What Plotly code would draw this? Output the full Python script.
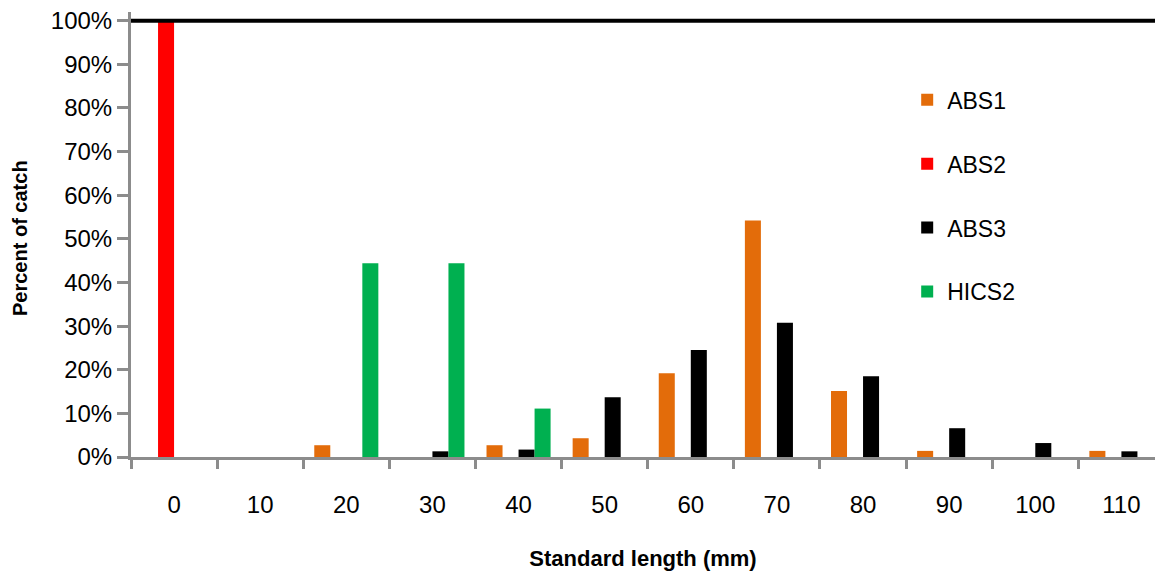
import plotly.graph_objects as go

categories = ["0", "10", "20", "30", "40", "50", "60", "70", "80", "90", "100", "110"]
abs1 = [None, None, 0.027, None, 0.027, 0.043, 0.192, 0.542, 0.151, 0.014, None, 0.014]
abs2 = [1.0, None, None, None, None, None, None, None, None, None, None, None]
abs3 = [None, None, None, 0.013, 0.017, 0.137, 0.245, 0.308, 0.185, 0.066, 0.032, 0.013]
hics2 = [None, None, 0.444, 0.444, 0.111, None, None, None, None, None, None, None]
y_ticks = [i / 10 for i in range(11)]
y_title = "Percent of catch"

series = [
    ("ABS1", abs1, "#E36C0A"),
    ("ABS2", abs2, "#FF0000"),
    ("ABS3", abs3, "#000000"),
    ("HICS2", hics2, "#00B050"),
]

FONT = "Liberation Sans, Arial, sans-serif"
fig = go.Figure()
for name, vals, col in series:
    fig.add_trace(go.Bar(x=categories, y=vals, name=name, marker_color=col,
                         marker_line_width=0, legendgroup=name))

W, H = 1155, 575
ml, mr, mt, mb = 131, 0, 12, 118
plot_h = H - mt - mb
ymax = 1.02

fig.update_layout(
    width=W, height=H,
    margin=dict(l=ml, r=mr, t=mt, b=mb, autoexpand=False),
    paper_bgcolor="white", plot_bgcolor="white",
    barmode="group", bargap=0.256, bargroupgap=0,
    font=dict(family=FONT, size=24, color="black"),
    legend=dict(x=0.758, y=0.851, xanchor="left", yanchor="top",
                font=dict(size=23), tracegroupgap=31,
                bgcolor="rgba(0,0,0,0)", itemwidth=30),
    showlegend=True,
)
fig.update_xaxes(
    type="category", range=[-0.5, 11.39], automargin=False,
    showline=True, linecolor="#8C8C8C", linewidth=3,
    ticks="outside", tickson="boundaries", ticklen=9, tickwidth=3, tickcolor="#8C8C8C",
    showgrid=False, ticklabelstandoff=24,
    tickfont=dict(size=24),
    title=dict(text="<b>Standard length (mm)</b>", font=dict(size=22), standoff=34),
)
fig.update_yaxes(
    range=[0, ymax], tickvals=y_ticks, tickformat=".0%", automargin=False,
    showline=True, linecolor="#8C8C8C", linewidth=3,
    ticks="outside", ticklen=11, tickwidth=3, tickcolor="#8C8C8C",
    showgrid=False, zeroline=False, tickfont=dict(size=24),
)
# black line at 100%
fig.add_shape(type="line", xref="paper", yref="y", x0=0, x1=1, y0=1, y1=1,
              line=dict(color="black", width=4), layer="above")

# y-axis title
fig.add_annotation(text=f"<b>{y_title}</b>", x=(20 - ml) / (W - ml - mr), xref="paper",
                   y=(H - mb - 238) / plot_h, yref="paper", showarrow=False,
                   textangle=-90, xanchor="center", yanchor="middle",
                   font=dict(size=20, family=FONT, color="black"))

fig.write_html("out.html", config={"displayModeBar": False},
               post_script="document.body.style.margin='0px';document.body.style.overflow='hidden';")
